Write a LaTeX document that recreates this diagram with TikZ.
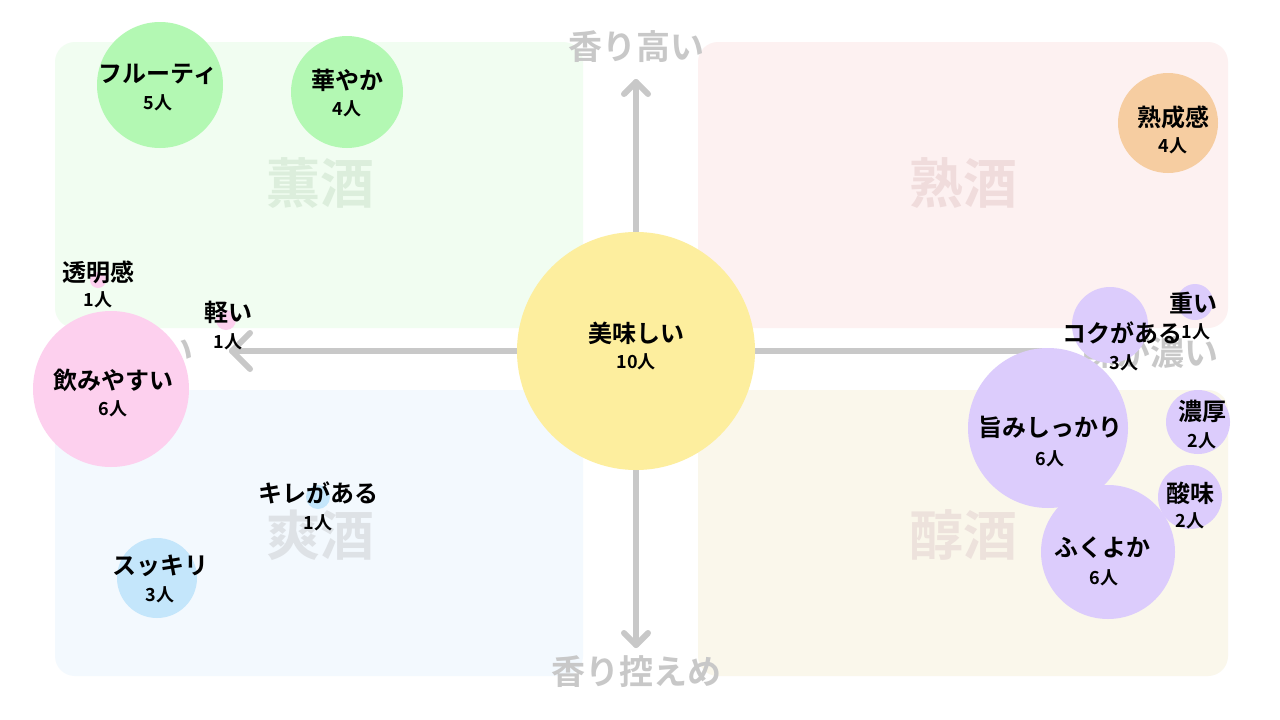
\documentclass[tikz,border=0pt]{standalone}
\usepackage{fontspec}
\usetikzlibrary{calc}
\setmainfont{Noto Sans CJK JP}[BoldFont={* Bold}]
\begin{document}
\begin{tikzpicture}[x=1pt,y=-1pt,
 quad/.style={rounded corners=20pt},
 big/.style={font=\fontsize{54}{54}\selectfont\bfseries},
 axl/.style={font=\fontsize{34}{34}\selectfont\bfseries,text=axc},
 lab/.style={font=\fontsize{24}{26}\selectfont\bfseries,inner sep=0pt},
 num/.style={font=\fontsize{18}{20}\selectfont\bfseries,inner sep=0pt},
 axis/.style={line width=6pt,draw=axc,line cap=round,line join=round}]
\definecolor{axc}{HTML}{C8C8C8}
\definecolor{qg}{HTML}{F1FDF1}\definecolor{qp}{HTML}{FDF1F1}
\definecolor{qb}{HTML}{F3F9FE}\definecolor{qy}{HTML}{FAF7EB}
\definecolor{cg}{HTML}{B3F8B3}\definecolor{co}{HTML}{F6CDA1}
\definecolor{cy}{HTML}{FDEE9E}\definecolor{cp}{HTML}{FDD0EE}
\definecolor{cb}{HTML}{C4E6FB}\definecolor{cv}{HTML}{DCCCFC}
\definecolor{kg}{HTML}{DCEEDC}\definecolor{kp}{HTML}{F0DCDC}
\definecolor{kb}{HTML}{DEE2E6}\definecolor{ky}{HTML}{EDE2DC}
\useasboundingbox[fill=white] (0,0) rectangle (1280,720);
\fill[qg,quad] (55,42) rectangle (583,328);
\fill[qp,quad] (698,42) rectangle (1228,328);
\fill[qb,quad] (55,390) rectangle (583,676);
\fill[qy,quad] (698,390) rectangle (1228,676);
\node[big,text=kg] (k1) at (320,183) {薫酒};
\node[big,text=kp] (k2) at (963,183) {熟酒};
\node[big,text=kb] (k3) at (320,535) {爽酒};
\node[big,text=ky] (k4) at (963,535) {醇酒};
\node[axl] (top) at (636,47) {香り高い};
\node[axl] (bot) at (636,672) {香り控えめ};
\node[axl] (lft) at (125,350) {味が薄い};
\node[axl] (rgt) at (1150,352) {味が濃い};
\coordinate (L) at (232,351); \coordinate (R) at (1045,351);
\coordinate (T) at (636,82); \coordinate (B) at (636,645);
\draw[axis] (L) -- (R);
\draw[axis] (T) -- (B);
\draw[axis] ($(L)+(18,-18)$) -- (L) -- ($(L)+(18,18)$);
\draw[axis] ($(T)+(-12,12)$) -- (T) -- ($(T)+(12,12)$);
\draw[axis] ($(B)+(-12,-12)$) -- (B) -- ($(B)+(12,-12)$);
\fill[cg] (160,85) circle (63);
\fill[cg] (347,92) circle (56);
\fill[co] (1168,123) circle (50);
\fill[cy] (636,351) circle (119);
\fill[cp] (98,280) circle (8);
\fill[cp] (226,320) circle (10);
\fill[cp] (111,389) circle (78);
\fill[cb] (318,497) circle (12);
\fill[cb] (157,578) circle (40);
\fill[cv] (1110,325) circle (38);
\fill[cv] (1195,302) circle (18);
\fill[cv] (1048,428) circle (80);
\fill[cv] (1198,422) circle (32);
\fill[cv] (1190,497) circle (32);
\fill[cv] (1108,552) circle (67);
\node[lab] (a1) at (158,74) {フルーティ}; \node[num] (a2) at (158,103) {5人};
\node[lab] (b1) at (347,80) {華やか}; \node[num] (b2) at (347,109) {4人};
\node[lab] (c1) at (1173,117) {熟成感}; \node[num] (c2) at (1173,146) {4人};
\node[lab] (d1) at (636,333) {美味しい}; \node[num] (d2) at (636,362) {10人};
\node[lab] (e1) at (98,272) {透明感}; \node[num] (e2) at (98,300) {1人};
\node[lab] (f1) at (228,312) {軽い}; \node[num] (f2) at (228,342) {1人};
\node[lab] (g1) at (113,380) {飲みやすい}; \node[num] (g2) at (113,409) {6人};
\node[lab] (h1) at (318,493) {キレがある}; \node[num] (h2) at (318,523) {1人};
\node[lab] (i1) at (160,566) {スッキリ}; \node[num] (i2) at (160,595) {3人};
\node[lab] (j1) at (1193,303) {重い}; \node[num] (j2) at (1196,332) {1人};
\node[lab] (l1) at (1122,333) {コクがある}; \node[num] (l2) at (1124,363) {3人};
\node[lab] (m1) at (1050,427) {旨みしっかり}; \node[num] (m2) at (1050,459) {6人};
\node[lab] (n1) at (1202,411) {濃厚}; \node[num] (n2) at (1202,441) {2人};
\node[lab] (o1) at (1190,493) {酸味}; \node[num] (o2) at (1190,521) {2人};
\node[lab] (p1) at (1102,548) {ふくよか}; \node[num] (p2) at (1104,578) {6人};
\end{tikzpicture}
\end{document}
